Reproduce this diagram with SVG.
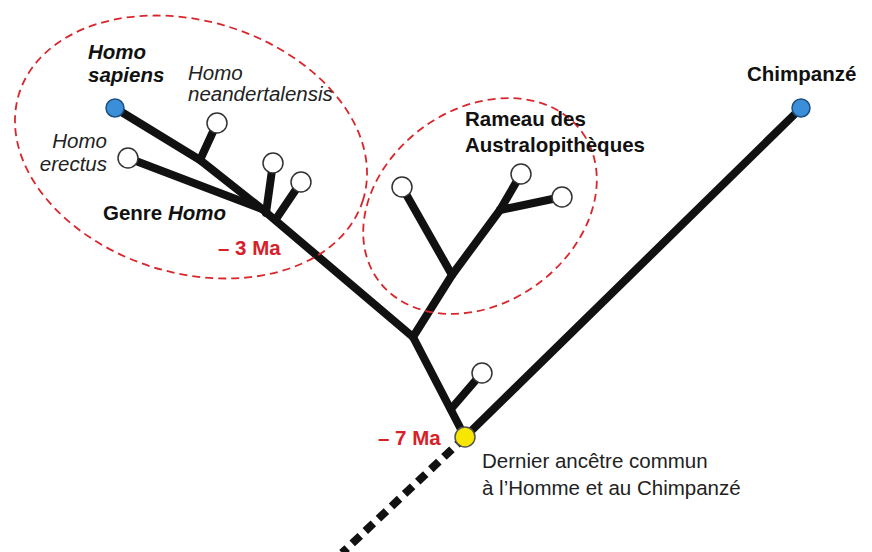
<svg xmlns="http://www.w3.org/2000/svg" width="872" height="552" viewBox="0 0 872 552">
<style>
.br{fill:none;stroke:#111;stroke-width:8;stroke-linecap:round;stroke-linejoin:round}
.dash{fill:none;stroke:#111;stroke-width:8;stroke-dasharray:11 7}
.clade{fill:none;stroke:#d9262c;stroke-width:1.8;stroke-dasharray:8 5}
.leaf{fill:#fff;stroke:#333;stroke-width:1.5}
.blue{fill:#3a8fd8;stroke:#1d4f80;stroke-width:1.5}
.anc{fill:#f6e600;stroke:#555;stroke-width:1.5}
text{font-family:"Liberation Sans",Arial,sans-serif;font-size:20.5px;fill:#222}
.b{font-weight:bold;fill:#111}
.i{font-style:italic}
.red{fill:#d7212a;font-weight:bold}
</style>
<rect width="872" height="552" fill="#fff"/>
<g id="connectors">
  <path class="dash" d="M465,437 L342,553"/>
  <path class="br" d="M465,437 L801,108"/>
  <path class="br" d="M465,437 L413,337 L262,209 L200,160 L115,108"/>
  <path class="br" d="M451,409 L482,373"/>
  <path class="br" d="M413,337 L452,275 L500,210 L521,174"/>
  <path class="br" d="M452,275 L402,187"/>
  <path class="br" d="M500,210 L562,197"/>
  <path class="br" d="M200,160 L217,123"/>
  <path class="br" d="M262,209 L128,158"/>
  <path class="br" d="M266,213 L273,163"/>
  <path class="br" d="M276,219 L301,182"/>
</g>
<g id="clade-homo">
  <ellipse class="clade" cx="191" cy="147" rx="180" ry="126" transform="rotate(17 191 147)"/>
</g>
<g id="clade-australopitheques">
  <ellipse class="clade" cx="480" cy="206" rx="126" ry="97" transform="rotate(-36 480 206)"/>
</g>
<g id="node-sapiens">
  <circle class="blue" cx="115" cy="108" r="9"/>
  <text class="b i" x="88" y="59">Homo</text>
  <text class="b i" x="88" y="82">sapiens</text>
</g>
<g id="node-neandertalensis">
  <circle class="leaf" cx="217" cy="123" r="10"/>
  <text class="i" x="188" y="80">Homo</text>
  <text class="i" x="188" y="101">neandertalensis</text>
</g>
<g id="node-erectus">
  <circle class="leaf" cx="128" cy="158" r="10"/>
  <text class="i" x="107" y="148" text-anchor="end">Homo</text>
  <text class="i" x="107" y="171" text-anchor="end">erectus</text>
</g>
<g id="node-homo-a"><circle class="leaf" cx="273" cy="163" r="10"/></g>
<g id="node-homo-b"><circle class="leaf" cx="301" cy="182" r="10"/></g>
<g id="label-genre-homo">
  <text class="b" x="103" y="220">Genre <tspan class="i">Homo</tspan></text>
  <text class="red" x="218" y="255">– 3 Ma</text>
</g>
<g id="node-austra-a"><circle class="leaf" cx="402" cy="187" r="10"/></g>
<g id="node-austra-b"><circle class="leaf" cx="521" cy="174" r="10"/></g>
<g id="node-austra-c"><circle class="leaf" cx="562" cy="197" r="10"/></g>
<g id="label-australopitheques">
  <text class="b" x="465" y="126">Rameau des</text>
  <text class="b" x="465" y="152">Australopithèques</text>
</g>
<g id="node-early"><circle class="leaf" cx="482" cy="373" r="10"/></g>
<g id="node-chimpanze">
  <circle class="blue" cx="801" cy="108" r="9"/>
  <text class="b" x="747" y="81">Chimpanzé</text>
</g>
<g id="node-ancetre">
  <circle class="anc" cx="465" cy="437" r="10"/>
  <text class="red" x="378" y="445">– 7 Ma</text>
  <text x="482" y="468">Dernier ancêtre commun</text>
  <text x="482" y="495">à l’Homme et au Chimpanzé</text>
</g>
</svg>
